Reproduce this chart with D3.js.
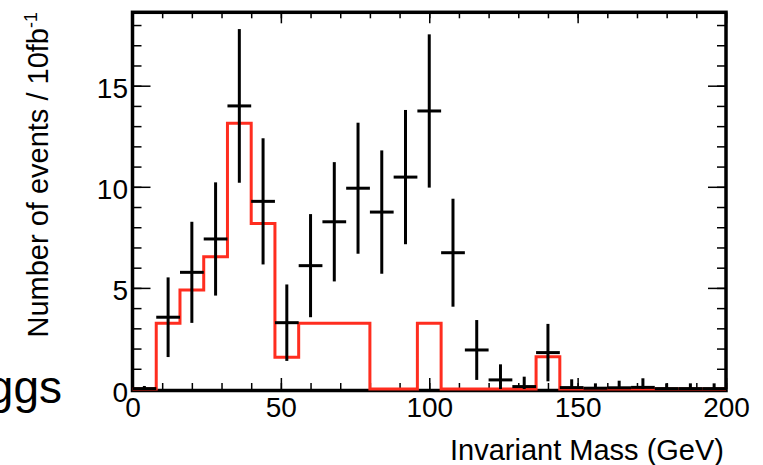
<!DOCTYPE html>
<html>
<head>
<meta charset="utf-8">
<script src="https://cdn.jsdelivr.net/npm/d3@7"></script>
<style>
  body { margin: 0; background: #fff; }
  svg { font-family: "Liberation Sans", Arial, Helvetica, sans-serif; }
</style>
</head>
<body>
<div id="graph"></div>
<script>
// bins of 8 GeV from 0 to 200
var binLow = d3.range(0, 200, 8);
var binWidth = 8;

// data points (black crosses) per bin
var dataVal = [0.02, 3.55, 5.77, 7.42, 14.0, 9.28, 3.28, 6.10, 8.27, 9.93, 8.75, 10.48, 13.75,
               6.74, 1.93, 0.45, 0.12, 1.80, 0.07, 0.04, 0.06, 0.08, 0.02, 0.02, 0.02];
var dataErr = [0.13, 1.97, 2.5, 2.8, 3.8, 3.12, 1.89, 2.55, 2.95, 3.24, 3.05, 3.32, 3.79,
               2.67, 1.48, 0.77, 0.49, 1.42, 0.41, 0.24, 0.35, 0.45, 0.26, 0.26, 0.26];

// red histogram per bin
var histVal = [0, 3.25, 4.90, 6.54, 13.14, 8.19, 1.57, 3.25, 3.25, 3.25, 0, 0, 3.25,
               0, 0, 0, 0, 1.60, 0, 0, 0, 0, 0, 0, 0];

var yMajor = [0, 5, 10, 15];

var W = 763, H = 465;
var plotL = 132.5, plotR = 726, plotT = 12.3, plotB = 389;

var svg = d3.select("div#graph").append("svg")
    .attr("width", W)
    .attr("height", H);

var xScale = d3.scaleLinear().domain([0, 200]).range([plotL, plotR]);
var yScale = d3.scaleLinear().domain([0, 18.63]).range([plotB, plotT]);

// frame
svg.append("rect")
    .attr("x", plotL).attr("y", plotT)
    .attr("width", plotR - plotL).attr("height", plotB - plotT + 1.5)
    .attr("fill", "none").attr("stroke", "#000").attr("stroke-width", 3.5);

function tickAxis(axis, transform) {
  var g = svg.append("g").attr("transform", transform).call(axis);
  g.select(".domain").remove();
  g.selectAll("line").attr("stroke", "#000").attr("stroke-width", 1.5);
  g.selectAll("text").remove();
  return g;
}

// x ticks (bottom & top), minor every 10, major every 50
tickAxis(d3.axisBottom(xScale).tickValues(d3.range(0, 201, 10)).tickSize(-6), "translate(0," + plotB + ")");
tickAxis(d3.axisBottom(xScale).tickValues(d3.range(0, 201, 50)).tickSize(-11), "translate(0," + plotB + ")");
tickAxis(d3.axisTop(xScale).tickValues(d3.range(0, 201, 10)).tickSize(-6), "translate(0," + plotT + ")");
tickAxis(d3.axisTop(xScale).tickValues(d3.range(0, 201, 50)).tickSize(-11), "translate(0," + plotT + ")");

// y ticks (left & right), minor every 1, major every 5
tickAxis(d3.axisLeft(yScale).tickValues(d3.range(0, 19, 1)).tickSize(-9), "translate(" + plotL + ",0)");
tickAxis(d3.axisLeft(yScale).tickValues(yMajor).tickSize(-18), "translate(" + plotL + ",0)");
tickAxis(d3.axisRight(yScale).tickValues(d3.range(0, 19, 1)).tickSize(-9), "translate(" + plotR + ",0)");
tickAxis(d3.axisRight(yScale).tickValues(yMajor).tickSize(-18), "translate(" + plotR + ",0)");

// labels
var xl = svg.append("g")
    .attr("transform", "translate(0," + plotB + ")")
    .call(d3.axisBottom(xScale).tickValues([0, 50, 100, 150, 200]).tickSize(0).tickPadding(8));
xl.select(".domain").remove();
xl.selectAll("text").attr("font-size", 28).attr("font-family", null).attr("fill", "#000");

var yl = svg.append("g")
    .attr("transform", "translate(" + plotL + ",0)")
    .call(d3.axisLeft(yScale).tickValues(yMajor).tickSize(0).tickPadding(4.5));
yl.select(".domain").remove();
yl.selectAll("text").attr("font-size", 28).attr("font-family", null).attr("fill", "#000").attr("dy", "0.43em");

// red histogram
var histPts = [[0, 0]];
binLow.forEach(function(b, i) {
  histPts.push([b, histVal[i]]);
  histPts.push([b + binWidth, histVal[i]]);
});
histPts.push([200, 0]);
svg.append("path")
    .attr("d", d3.line()
      .x(function(d) { return xScale(d[0]); })
      .y(function(d) { return yScale(d[1]); })(histPts))
    .attr("fill", "none")
    .attr("stroke", "#ff2d1f")
    .attr("stroke-width", 3);

// data crosses
var pts = svg.append("g").selectAll("g").data(binLow).enter().append("g");
pts.append("line")
    .attr("x1", function(d) { return xScale(d); })
    .attr("x2", function(d) { return xScale(d + binWidth); })
    .attr("y1", function(d, i) { return yScale(dataVal[i]); })
    .attr("y2", function(d, i) { return yScale(dataVal[i]); })
    .attr("stroke", "#000").attr("stroke-width", 3);
pts.append("line")
    .attr("x1", function(d) { return xScale(d + binWidth / 2); })
    .attr("x2", function(d) { return xScale(d + binWidth / 2); })
    .attr("y1", function(d, i) { return yScale(Math.min(18.63, dataVal[i] + dataErr[i])); })
    .attr("y2", function(d, i) { return yScale(Math.max(0, dataVal[i] - dataErr[i])); })
    .attr("stroke", "#000").attr("stroke-width", 3);

// axis titles
svg.append("text")
    .attr("x", 724).attr("y", 460)
    .attr("text-anchor", "end")
    .attr("font-size", 29)
    .text("Invariant Mass (GeV)");

var yt = svg.append("text")
    .attr("transform", "translate(48,12) rotate(-90)")
    .attr("text-anchor", "end")
    .attr("font-size", 29);
yt.append("tspan").text("Number of events / 10fb");
yt.append("tspan").attr("font-size", 18).attr("dy", -11).text("-1");

// cut-off title at left
svg.append("text")
    .attr("x", 62).attr("y", 403)
    .attr("text-anchor", "end")
    .attr("font-size", 46)
    .text("Higgs");
</script>
</body>
</html>
